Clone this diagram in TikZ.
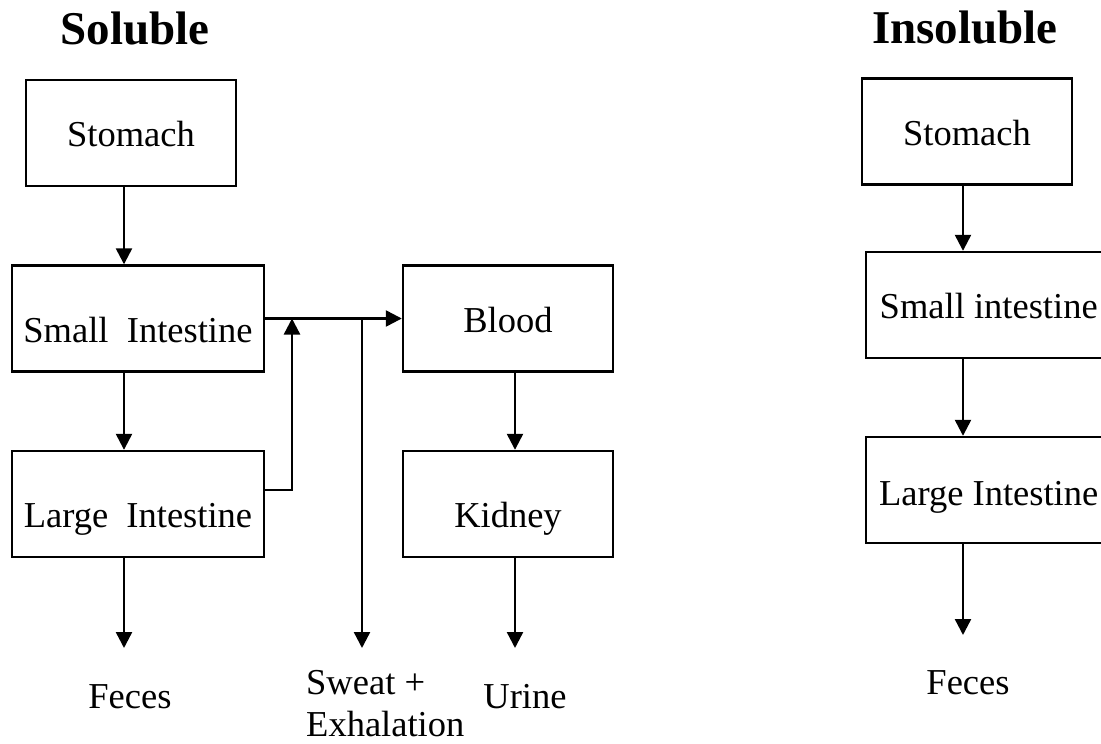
\documentclass[tikz,border=0pt]{standalone}
\usepackage{fontspec}
\setmainfont{Liberation Serif}
\usetikzlibrary{arrows.meta}
\newcommand{\organfont}{\fontsize{36.5}{42}\selectfont}
\newcommand{\titlefont}{\fontsize{47}{56}\selectfont\bfseries}

\begin{document}
\begin{tikzpicture}[x=1pt,y=-1pt,
    organ/.style={draw,line width=2.4pt,minimum width=210pt,minimum height=106pt,inner sep=0pt,text height=27pt,text depth=0pt,font=\organfont},
    lowtext/.style={text height=47pt},
    wide/.style={minimum width=252pt},
    cutbox/.style={organ,anchor=west,minimum width=245pt},
    flow/.style={-{Triangle[length=16pt,width=16pt]},line width=2.4pt},
    sink/.style={font=\organfont,inner sep=0pt,anchor=base},
    heading/.style={font=\titlefont,inner sep=0pt,anchor=base}]
  \clip (0,0) rectangle (1101,744);
  % soluble
  \node[heading] (solT) at (135,45) {Soluble};
  \node[organ] (stomL) at (131,133) {Stomach};
  \node[organ,wide,lowtext] (siL) at (138,318.5) {Small\ \ Intestine};
  \node[organ,wide,lowtext] (liL) at (138,504) {Large\ \ Intestine};
  \node[organ] (blood) at (508,318.5) {Blood};
  \node[organ,lowtext] (kidney) at (508,504) {Kidney};
  \node[sink] (fecL) at (130,708) {Feces};
  \node[sink] (urine) at (525,708) {Urine};
  \node[font=\organfont,inner sep=0pt,align=left,anchor=north west] (sweat) at (306,670) {Sweat +\\Exhalation};
  \coordinate (colL) at (124,648);
  \coordinate (colM) at (515,648);
  \coordinate (jUp) at (292,318.5);
  \coordinate (jDown) at (362,318.5);
  \draw[flow] (stomL.south -| colL) -- (siL.north -| colL);
  \draw[flow] (siL.south -| colL) -- (liL.north -| colL);
  \draw[flow] (liL.south -| colL) -- (colL);
  \draw[flow] (siL.east) -- (blood.west);
  \draw[flow] ([yshift=14pt]liL.east) -| (jUp);
  \draw[flow] (jDown) -- (jDown |- colL);
  \draw[flow] (blood.south -| colM) -- (kidney.north -| colM);
  \draw[flow] (kidney.south -| colM) -- (colM);
  % insoluble
  \node[heading] (insT) at (965,43) {Insoluble};
  \node[organ] (stomR) at (967,131.5) {Stomach};
  \node[cutbox] (siR) at (865,305) {Small intestine};
  \node[cutbox,text height=30pt] (liR) at (865,490) {Large Intestine};
  \node[sink] (fecR) at (968,694) {Feces};
  \coordinate (colR) at (963,635);
  \draw[flow] (stomR.south -| colR) -- (siR.north -| colR);
  \draw[flow] (siR.south -| colR) -- (liR.north -| colR);
  \draw[flow] (liR.south -| colR) -- (colR);
\end{tikzpicture}
\end{document}
